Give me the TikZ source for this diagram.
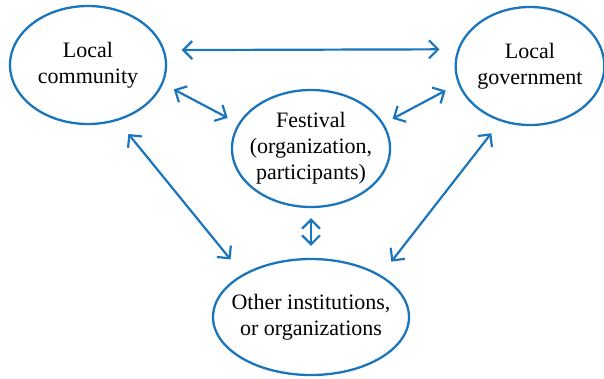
\documentclass[tikz,border=0pt]{standalone}
\usepackage{fontspec}
\setmainfont{Liberation Serif}
\usepackage{tikz}
\usetikzlibrary{arrows.meta,shapes.geometric}
\definecolor{linkblue}{HTML}{1B75BC}
\tikzset{
  actorellipse/.style={
    ellipse,
    draw=linkblue,
    line width=2.3pt,
    align=center,
    inner sep=0pt,
    font=\fontsize{22}{26}\selectfont
  },
  linkflow/.style={
    {Straight Barb[length=9pt,width=18pt]}-{Straight Barb[length=9pt,width=18pt]},
    line width=2.2pt,
    draw=linkblue
  }
}

\begin{document}
\begin{tikzpicture}[x=1pt,y=-1pt]
  \useasboundingbox (0,0) rectangle (604,378);
  \node[actorellipse,minimum width=156pt,minimum height=118pt] (community) at (88,65) {Local\\community};
  \node[actorellipse,minimum width=146pt,minimum height=118pt] (government) at (530,66) {Local\\government};
  \node[actorellipse,inner xsep=-9pt,inner ysep=-4pt,minimum width=158pt,minimum height=117pt] (festival) at (311,148.5) {Festival\\(organization,\\participants)};
  \node[actorellipse,inner xsep=-13pt,minimum width=196pt,minimum height=116pt] (others) at (311,317) {Other institutions,\\or organizations};
  \draw[linkflow,shorten <=17pt,shorten >=18pt] (community.11) -- (government.167);
  \draw[linkflow,shorten <=12pt,shorten >=12pt] (community.-14) -- (festival.161);
  \draw[linkflow,shorten <=14pt,shorten >=10pt] (government.194) -- (festival.19);
  \draw[linkflow,shorten <=10pt,shorten >=12pt] (festival.south) -- (others.north);
  \draw[linkflow,shorten <=17pt,shorten >=19pt] (community.-62) -- (others.148.5);
  \draw[linkflow,shorten <=15pt,shorten >=17pt] (government.-118) -- (others.31.5);
\end{tikzpicture}
\end{document}
